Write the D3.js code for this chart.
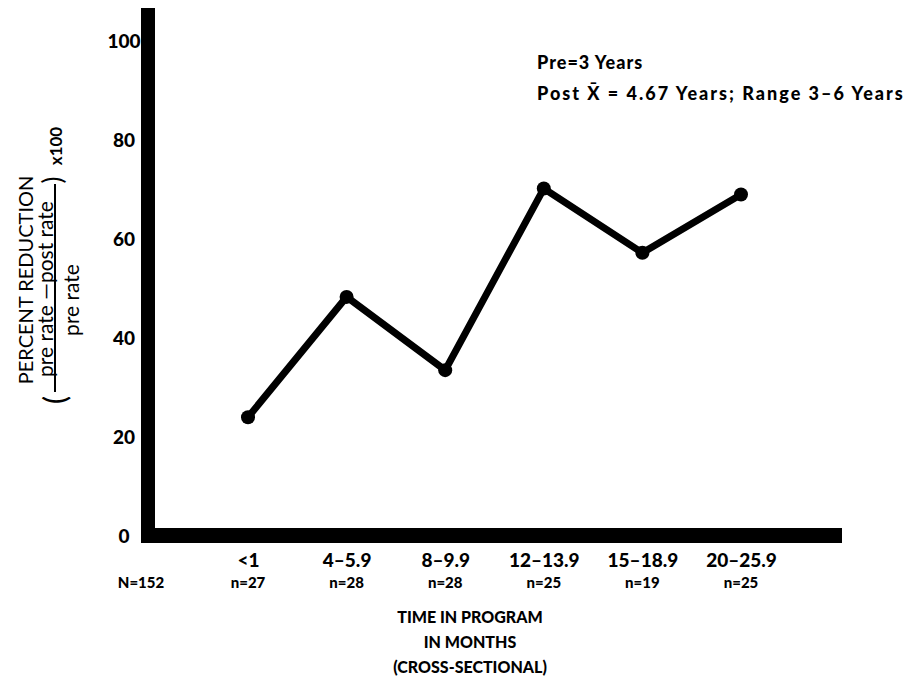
<!DOCTYPE html>
<html>
<head>
<meta charset="utf-8">
<script src="https://cdn.jsdelivr.net/npm/d3@7"></script>
<style>
  html, body { margin: 0; padding: 0; background: #fff; }
  svg { display: block; }
  text { font-family: Lato, "Open Sans", sans-serif; fill: #000; }
</style>
</head>
<body>
<svg id="chart" width="912" height="689"></svg>
<script>
// ---- data ----
const categories = ["<1", "4\u20135.9", "8\u20139.9", "12\u201313.9", "15\u201318.9", "20\u201325.9"];
const counts = ["n=27", "n=28", "n=28", "n=25", "n=19", "n=25"];
const percentReduction = [24, 48.3, 33.5, 70.2, 57.2, 69];
const yTicks = [0, 20, 40, 60, 80, 100];
const totalLabel = "N=152";
const noteLines = ["Pre=3 Years", "Post X\u0304 = 4.67 Years; Range 3\u20136 Years"];
const xTitle = ["TIME IN PROGRAM", "IN MONTHS", "(CROSS-SECTIONAL)"];

const svg = d3.select("#chart");

const x = d3.scalePoint().domain(categories).range([248, 741]);
const y = d3.scaleLinear().domain([0, 100]).range([536, 41]);

// ---- axes bars (thick) ----
svg.append("rect").attr("x", 141).attr("y", 8).attr("width", 14).attr("height", y(0) + 7 - 8).attr("fill", "#000");
svg.append("rect").attr("x", 141).attr("y", y(0) - 8).attr("width", 842 - 141).attr("height", 15).attr("fill", "#000");

// ---- y tick labels ----
const yAxis = d3.axisLeft(y).tickValues(yTicks).tickSize(0).tickFormat(d3.format("d"));
const gy = svg.append("g").attr("transform", "translate(124,0)").call(yAxis);
gy.select(".domain").remove();
gy.selectAll("text")
  .attr("x", 0).attr("text-anchor", "middle")
  .style("font-family", "Lato, sans-serif")
  .style("font-size", "19px").style("font-weight", "900");

// ---- x category labels ----
const xAxis = d3.axisBottom(x).tickSize(0);
const gx = svg.append("g").attr("transform", "translate(0,567)").call(xAxis);
gx.select(".domain").remove();
gx.selectAll("text")
  .attr("y", 0).attr("dy", "0")
  .style("font-family", "Lato, sans-serif")
  .style("font-size", "19px").style("font-weight", "900");

svg.append("g").selectAll("text").data(categories).join("text")
  .attr("x", d => x(d)).attr("y", 588)
  .attr("text-anchor", "middle")
  .style("font-size", "15px").style("font-weight", "900")
  .text((d, i) => counts[i]);

svg.append("text").attr("x", 141).attr("y", 588).attr("text-anchor", "middle")
  .style("font-size", "15px").style("font-weight", "900").text(totalLabel);

// ---- line + points ----
const line = d3.line().x((d, i) => x(categories[i])).y(d => y(d));
svg.append("path").datum(percentReduction)
  .attr("d", line).attr("fill", "none").attr("stroke", "#000")
  .attr("stroke-width", 7).attr("stroke-linejoin", "miter");
svg.append("g").selectAll("circle").data(percentReduction).join("circle")
  .attr("cx", (d, i) => x(categories[i])).attr("cy", d => y(d))
  .attr("r", 7).attr("fill", "#000");

// ---- note ----
svg.append("g").selectAll("text").data(noteLines).join("text")
  .attr("x", 537).attr("y", (d, i) => 69 + i * 31)
  .style("font-size", "18px").style("font-weight", "900")
  .style("letter-spacing", (d, i) => i === 0 ? "1px" : "2px")
  .text(d => d);

// ---- x title ----
svg.append("g").selectAll("text").data(xTitle).join("text")
  .attr("x", 470).attr("y", (d, i) => 623 + i * 25)
  .attr("text-anchor", "middle")
  .style("font-size", "16px").style("font-weight", "900")
  .text(d => d);

// ---- y title (rotated) ----
function vtext(cx, cy, str, size, weight) {
  return svg.append("text")
    .attr("transform", `translate(${cx},${cy}) rotate(-90)`)
    .attr("text-anchor", "middle").attr("dominant-baseline", "central")
    .style("font-size", size + "px").style("font-weight", weight)
    .text(str);
}
vtext(25, 280, "PERCENT REDUCTION", 20, 400);
vtext(44, 289, "pre rate \u2014post rate", 21, 400);
svg.append("line").attr("x1", 55).attr("x2", 55).attr("y1", 184).attr("y2", 392)
  .attr("stroke", "#000").attr("stroke-width", 2);
vtext(70, 300, "pre rate", 21, 400);
vtext(54, 400, "(", 30, 400);
vtext(52, 180, ")", 26, 400);
vtext(55, 146, "x100", 17, 700);
</script>
</body>
</html>
